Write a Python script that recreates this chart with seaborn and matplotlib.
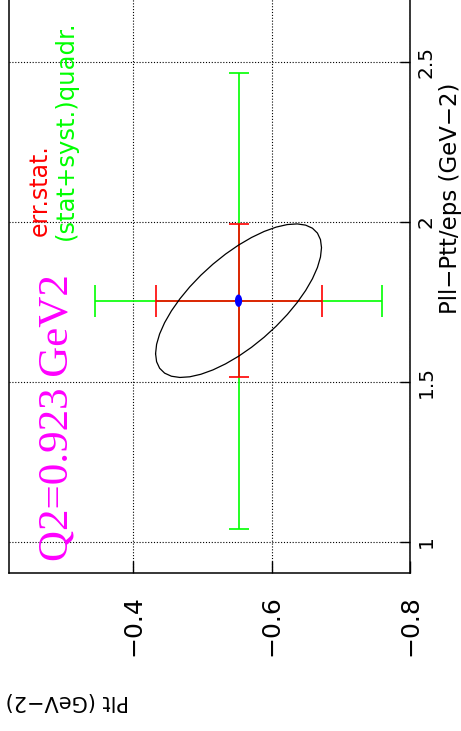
import numpy as np
import matplotlib
matplotlib.use("Agg")
import matplotlib.pyplot as plt
import seaborn as sns
import pandas as pd

# ---- data ----
plt_center = [-0.552]          # Plt (GeV-2)
x_center = [1.753]             # Pll-Ptt/eps (GeV-2)
plt_err_stat = [0.12]
x_err_stat = [0.24]
plt_err_tot = [0.208]
x_err_tot = [0.712]
rho_stat = -0.69               # correlation of the stat. error ellipse
q2_label = "Q2=0.923 GeV2"
legend_stat = "err.stat."
legend_tot = "(stat+syst.)quadr."
xlabel_text = "Pll\u2212Ptt/eps (GeV\u22122)"
ylabel_text = "Plt (GeV\u22122)"
plt_ticks = [-0.4, -0.6, -0.8]
plt_ticklabels = ["\u22120.4", "\u22120.6", "\u22120.8"]
x_ticks = [1, 1.5, 2, 2.5]
x_ticklabels = ["1", "1.5", "2", "2.5"]

sns.set_style("white")
plt.rcParams["font.family"] = ["DejaVu Sans"]

W, H = 461, 731
fig = plt.figure(figsize=(W / 100, H / 100), dpi=100)
ax = fig.add_axes([9 / W, (H - 573) / H, 401 / W, 576 / H])

# error bars (total first, stat on top)
ax.errorbar(plt_center, x_center, xerr=plt_err_tot, fmt="none", ecolor="#00ff00",
            elinewidth=1.2, capsize=11.5, capthick=1.2, zorder=3)
ax.errorbar(plt_center, x_center, yerr=x_err_tot, fmt="none", ecolor="#00ff00",
            elinewidth=1.2, capsize=7.2, capthick=1.2, zorder=3)
ax.errorbar(plt_center, x_center, xerr=plt_err_stat, fmt="none", ecolor="#ff0000",
            elinewidth=1.2, capsize=11.5, capthick=1.2, zorder=4)
ax.errorbar(plt_center, x_center, yerr=x_err_stat, fmt="none", ecolor="#ff0000",
            elinewidth=1.2, capsize=7.2, capthick=1.2, zorder=4)

# stat. error ellipse
t = np.linspace(0, 2 * np.pi, 41)
ell = pd.DataFrame({
    "plt": plt_center[0] + plt_err_stat[0] * np.cos(t),
    "x": x_center[0] + x_err_stat[0] * (rho_stat * np.cos(t) + np.sqrt(1 - rho_stat ** 2) * np.sin(t)),
})
sns.lineplot(data=ell, x="plt", y="x", sort=False, estimator=None, color="black",
             linewidth=0.9, ax=ax, zorder=5)

# central point (slightly elongated dot)
tm = np.linspace(0, 2 * np.pi, 30)
dot_marker = np.column_stack([0.58 * np.cos(tm), np.sin(tm)])
sns.scatterplot(x=plt_center, y=x_center, marker=dot_marker, s=80, color="#0000ff",
                edgecolor="none", ax=ax, zorder=6)

ax.set_xlim(-0.22, -0.80)
ax.set_ylim(0.902, 2.702)
ax.set_xlabel("")
ax.set_ylabel("")

ax.set_xticks(plt_ticks)
ax.set_xticklabels(plt_ticklabels)
ax.set_yticks(x_ticks)
ax.set_yticklabels(x_ticklabels)
ax.yaxis.tick_right()
ax.tick_params(axis="x", direction="in", length=9, width=1, pad=16, labelsize=18,
               labelrotation=90, bottom=True, top=False, colors="black")
ax.tick_params(axis="y", direction="in", length=7, width=1, pad=5, labelsize=14.5,
               labelrotation=90, right=True, left=False, colors="black")
for lab in ax.get_yticklabels():
    lab.set_va("center")

ax.grid(True, color="black", linestyle=(0, (1, 1.6)), linewidth=0.8)
for s in ax.spines.values():
    s.set_color("black")
    s.set_linewidth(1.1)

# texts
fig.text(57 / W, 1 - 418 / H, q2_label, rotation=90, ha="center", va="center",
         color="#ff00ff", fontsize=31, family=["Liberation Serif"])
fig.text(40 / W, 1 - 236 / H, legend_stat, rotation=90, ha="center", va="bottom",
         color="#ff0000", fontsize=17)
fig.text(66 / W, 1 - 240 / H, legend_tot, rotation=90, ha="center", va="bottom",
         color="#00ff00", fontsize=17.5)
fig.text(457 / W, 1 - 314 / H, xlabel_text, rotation=90, rotation_mode="anchor",
         ha="left", va="baseline", color="black", fontsize=16.5)
fig.text(67 / W, 1 - 701 / H, ylabel_text, rotation=180, ha="center", va="center",
         color="black", fontsize=15)

fig.savefig("out.png", dpi=100)
